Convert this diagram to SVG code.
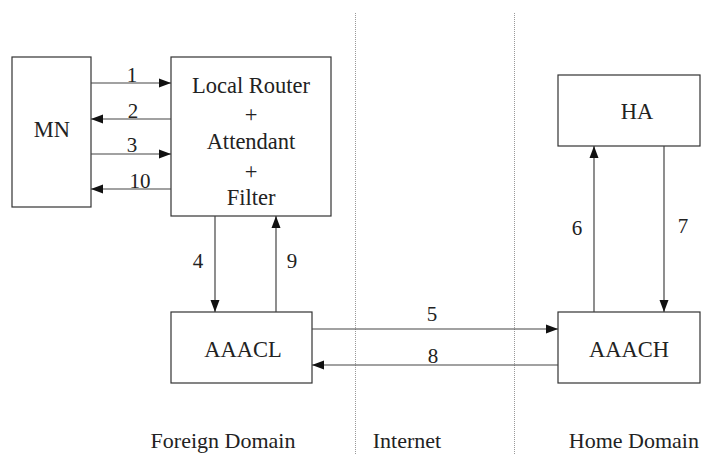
<svg xmlns="http://www.w3.org/2000/svg" width="702" height="455" viewBox="0 0 702 455">
  <style>
    .box { fill: #fff; stroke: #333; stroke-width: 1.2; }
    .lbl { font-size: 22.5px; fill: #222; text-anchor: middle; }
    .dom { font-size: 22px; fill: #222; text-anchor: middle; }
    .num { font-size: 21px; fill: #222; text-anchor: middle; }
    .edge { stroke: #444; stroke-width: 1.2; fill: none; marker-end: url(#head); }
    .divider { stroke: #999; stroke-width: 1; stroke-dasharray: 1 1; }
  </style>
  <defs>
    <marker id="head" markerUnits="userSpaceOnUse" markerWidth="12" markerHeight="10" refX="12" refY="5" orient="auto">
      <path d="M0,0.5 L12,5 L0,9.5 Z" fill="#111"/>
    </marker>
  </defs>

  <rect width="702" height="455" fill="#fff"/>

  <!-- domain separators -->
  <g id="dividers">
    <line class="divider" x1="355.5" y1="13" x2="355.5" y2="455"/>
    <line class="divider" x1="514.5" y1="13" x2="514.5" y2="455"/>
  </g>

  <g font-family="Liberation Serif, Times New Roman, Times, serif">
  <g id="MN">
    <rect class="box" x="12" y="57" width="79" height="150"/>
    <text class="lbl" x="52" y="137">MN</text>
  </g>

  <g id="LocalRouter">
    <rect class="box" x="171" y="57" width="160" height="159"/>
    <text class="lbl" x="251" y="93">Local Router</text>
    <text class="lbl" x="251" y="122">+</text>
    <text class="lbl" x="251" y="149">Attendant</text>
    <text class="lbl" x="251" y="179">+</text>
    <text class="lbl" x="251" y="205">Filter</text>
  </g>

  <g id="AAACL">
    <rect class="box" x="171" y="312" width="141" height="71"/>
    <text class="lbl" x="243" y="357">AAACL</text>
  </g>

  <g id="HA">
    <rect class="box" x="558" y="75" width="142" height="71"/>
    <text class="lbl" x="637" y="119">HA</text>
  </g>

  <g id="AAACH">
    <rect class="box" x="558" y="312" width="142" height="71"/>
    <text class="lbl" x="629" y="357">AAACH</text>
  </g>

  <g id="connectors">
    <line class="edge" x1="91" y1="83" x2="171" y2="83"/>
    <line class="edge" x1="171" y1="119" x2="91" y2="119"/>
    <line class="edge" x1="91" y1="154" x2="171" y2="154"/>
    <line class="edge" x1="171" y1="189" x2="91" y2="189"/>
    <line class="edge" x1="215" y1="216" x2="215" y2="312"/>
    <line class="edge" x1="276" y1="312" x2="276" y2="216"/>
    <line class="edge" x1="312" y1="329" x2="558" y2="329"/>
    <line class="edge" x1="558" y1="365" x2="312" y2="365"/>
    <line class="edge" x1="594" y1="312" x2="594" y2="146"/>
    <line class="edge" x1="664" y1="146" x2="664" y2="312"/>
  </g>

  <g id="connector-labels">
    <text class="num" x="132" y="82">1</text>
    <text class="num" x="133" y="118">2</text>
    <text class="num" x="132" y="152">3</text>
    <text class="num" x="140" y="188">10</text>
    <text class="num" x="198" y="268">4</text>
    <text class="num" x="292" y="268">9</text>
    <text class="num" x="432" y="321">5</text>
    <text class="num" x="433" y="363">8</text>
    <text class="num" x="577" y="235">6</text>
    <text class="num" x="683" y="233">7</text>
  </g>

  <g id="domains">
    <text class="dom" x="223" y="448">Foreign Domain</text>
    <text class="dom" x="407" y="448">Internet</text>
    <text class="dom" x="699" y="448" text-anchor="end" style="text-anchor:end">Home Domain</text>
  </g>
  </g>
</svg>
